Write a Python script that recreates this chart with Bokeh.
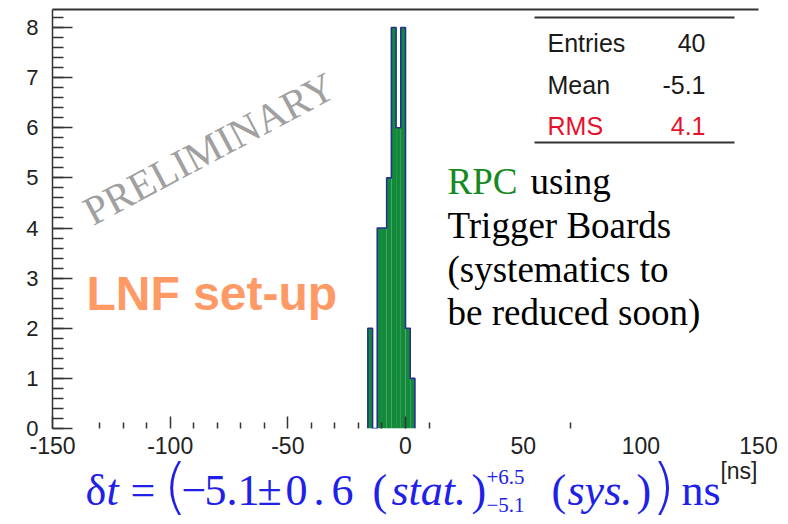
from bokeh.plotting import figure
from bokeh.layouts import column
from bokeh.models import (Range1d, LinearAxis, FixedTicker, SingleIntervalTicker,
                          Label, BoxAnnotation)
from bokeh.embed import file_html
from bokeh.resources import INLINE

# ---------------- data ----------------
bin_edges = [-16, -14, -12, -10, -8, -6, -4, -2, 0, 2, 4]
counts = [2, 0, 4, 4, 5, 8, 6, 8, 2, 1]

x_label_ticks = [-150, -100, -50, 0, 50, 100, 150]
x_long_ticks = [-150, -100, -50, 0]
x_short_ticks = [-130, -120, -110, -90, -80, -70, -60, -40, -30, -20, -10, 10, 70]

stat_names = ["Entries", "Mean", "RMS"]
stat_values = ["40", "-5.1", "4.1"]
stat_colors = ["#1a1a1a", "#1a1a1a", "#e8112d"]

X_LO, X_HI = -150, 150
Y_LO, Y_HI = 0, 8.36

# frame position on the page (px)
FL, FR, FT, FB = 52, 758, 9, 428
W, H1 = 788, 470
F_TOP = 450           # page y where the formula panel starts
H2 = 524 - F_TOP
OVERLAP = H1 - F_TOP

# empirical shift of the alphabetic baseline (fraction of font size)
BASE_SHIFT = {"Liberation Sans": 0.37, "Liberation Serif": 0.31, "DejaVu Sans Light": 0.33}


def dx(px):
    return X_LO + (px - FL) * (X_HI - X_LO) / (FR - FL)


def dy(py):
    return Y_LO + (FB - py) * (Y_HI - Y_LO) / (FB - FT)


p = figure(width=W, height=H1,
           x_range=Range1d(X_LO, X_HI), y_range=Range1d(Y_LO, Y_HI),
           output_backend="svg", toolbar_location=None,
           x_axis_location=None, y_axis_location=None,
           min_border_left=FL, min_border_right=W - FR,
           min_border_top=FT, min_border_bottom=H1 - FB)
p.outline_line_color = None
p.background_fill_color = "white"
p.border_fill_color = "white"
for g in p.grid:
    g.grid_line_color = None

AX = "#333333"

# y axis
yax = LinearAxis(ticker=SingleIntervalTicker(interval=1, num_minor_ticks=5))
yax.axis_line_color = AX
yax.axis_line_width = 1.5
yax.major_tick_line_color = AX
yax.major_tick_line_width = 1.5
yax.minor_tick_line_color = AX
yax.minor_tick_line_width = 1.5
yax.major_tick_in = 20
yax.major_tick_out = 0
yax.minor_tick_in = 11
yax.minor_tick_out = 0
yax.major_label_text_font = "Liberation Sans"
yax.major_label_text_font_size = "22px"
yax.major_label_text_color = "#222222"
yax.major_label_standoff = 14
p.add_layout(yax, "left")

# x axis: tick marks only (adjacent to frame)
xticks_ax = LinearAxis(ticker=FixedTicker(ticks=x_long_ticks, minor_ticks=x_short_ticks))
xticks_ax.axis_line_color = None
xticks_ax.major_tick_line_color = AX
xticks_ax.major_tick_line_width = 1.5
xticks_ax.minor_tick_line_color = AX
xticks_ax.minor_tick_line_width = 1.5
xticks_ax.major_tick_in = 12
xticks_ax.major_tick_out = 0
xticks_ax.minor_tick_in = 6
xticks_ax.minor_tick_out = 0
xticks_ax.major_label_overrides = {t: "" for t in x_long_ticks}
xticks_ax.major_label_text_font_size = "1px"
xticks_ax.major_label_standoff = 0
p.add_layout(xticks_ax, "below")

# x axis: labels only
xlab_ax = LinearAxis(ticker=FixedTicker(ticks=x_label_ticks))
xlab_ax.axis_line_color = None
xlab_ax.major_tick_line_color = None
xlab_ax.minor_tick_line_color = None
xlab_ax.major_tick_in = 0
xlab_ax.major_tick_out = 0
xlab_ax.major_label_overrides = {t: str(t) for t in x_label_ticks}
xlab_ax.major_label_text_font = "Liberation Sans"
xlab_ax.major_label_text_font_size = "23px"
xlab_ax.major_label_text_color = "#222222"
xlab_ax.major_label_standoff = 8
p.add_layout(xlab_ax, "below")

# top frame line
top_ax = LinearAxis(ticker=FixedTicker(ticks=[]))
top_ax.axis_line_color = AX
top_ax.axis_line_width = 2
top_ax.major_tick_line_color = None
top_ax.minor_tick_line_color = None
top_ax.major_tick_out = 0
top_ax.major_tick_in = 0
top_ax.major_label_standoff = 0
p.add_layout(top_ax, "above")

# ---------------- histogram ----------------
p.quad(left=bin_edges[:-1], right=bin_edges[1:], top=counts, bottom=0,
       fill_color="#13893b", line_color=None)
step_x = [bin_edges[0]]
step_y = [0]
for i, c in enumerate(counts):
    step_x += [bin_edges[i], bin_edges[i + 1]]
    step_y += [c, c]
step_x.append(bin_edges[-1])
step_y.append(0)
p.line(step_x, step_y, line_color="#24318f", line_width=1.6)


def add_text(fig, mapx, mapy, text, px, py, size, color="black",
             font="Liberation Serif", style="normal", align="left", angle=0):
    py_corr = py - BASE_SHIFT[font] * size
    fig.add_layout(Label(x=mapx(px), y=mapy(py_corr), text=text, text_font=font,
                         text_font_size=f"{size}px", text_color=color,
                         text_font_style=style, text_align=align,
                         text_baseline="alphabetic", angle=angle, angle_units="deg"))


def mtext(*args, **kw):
    add_text(p, dx, dy, *args, **kw)


# ---------------- stats box ----------------
for y0 in (16, 141):
    p.add_layout(BoxAnnotation(left=dx(534), right=dx(734), top=dy(y0), bottom=dy(y0 + 2),
                               fill_color=AX, fill_alpha=1, line_color=None))
for i, (nm, val, col) in enumerate(zip(stat_names, stat_values, stat_colors)):
    base = 52 + 41.5 * i
    mtext(nm, 547, base, 25, color=col, font="Liberation Sans")
    mtext(val, 705, base, 25, color=col, font="Liberation Sans", align="right")

# ---------------- annotations ----------------
mtext("PRELIMINARY", 86, 226, 41, color="#a0a0a0", angle=28)
mtext("LNF set-up", 86, 311, 48, color="#ff9966", font="Liberation Sans", style="bold")

mtext("RPC", 447, 192, 37, color="#168a1e")
mtext("using", 530, 192, 37)
mtext("Trigger Boards", 447, 236, 37)
mtext("(systematics to", 447, 280, 37)
mtext("be reduced soon)", 447, 323, 37)

# ---------------- formula panel (page pixel coordinates) ----------------
f = figure(width=W, height=H2, x_range=Range1d(FL, FR), y_range=Range1d(524, F_TOP),
           output_backend="svg", toolbar_location=None,
           x_axis_location=None, y_axis_location=None,
           min_border_left=FL, min_border_right=W - FR,
           min_border_top=0, min_border_bottom=0,
           margin=(-OVERLAP, 0, 0, 0))
f.outline_line_color = None
f.background_fill_color = None
f.border_fill_color = None
for g in f.grid:
    g.grid_line_color = None


def ident(v):
    return v


def ftext(*args, **kw):
    add_text(f, ident, ident, *args, **kw)


BLUE = "#2020e8"
FS = 44
ftext("δ", 85, 504, FS, color=BLUE)
ftext("t", 106, 504, FS, color=BLUE, style="italic")
ftext("=", 130, 504, FS, color=BLUE)
ftext("(", 163, 505, 61, color=BLUE, font="DejaVu Sans Light")
ftext("−", 181, 504, FS, color=BLUE)
ftext("5.1", 204, 504, FS, color=BLUE)
ftext("±", 257, 504, FS, color=BLUE)
ftext("0", 285, 504, FS, color=BLUE)
ftext(".", 313, 504, FS, color=BLUE)
ftext("6", 331, 504, FS, color=BLUE)
ftext("(", 372, 504, FS, color=BLUE)
ftext("stat.", 391, 504, FS, color=BLUE, style="italic")
ftext(")", 471, 504, FS, color=BLUE)
ftext("+6.5", 486, 483, 21, color=BLUE)
ftext("−5.1", 486, 511, 21, color=BLUE)
ftext("(", 551, 504, FS, color=BLUE)
ftext("sys.", 567, 504, FS, color=BLUE, style="italic")
ftext(")", 636, 504, FS, color=BLUE)
ftext(")", 651, 505, 61, color=BLUE, font="DejaVu Sans Light")
ftext("ns", 681, 504, FS, color=BLUE)
ftext("[ns]", 757, 479, 23, color="#222222", font="Liberation Sans", align="right")

layout = column(p, f, spacing=0)
open("out.html", "w").write(file_html(layout, INLINE))
